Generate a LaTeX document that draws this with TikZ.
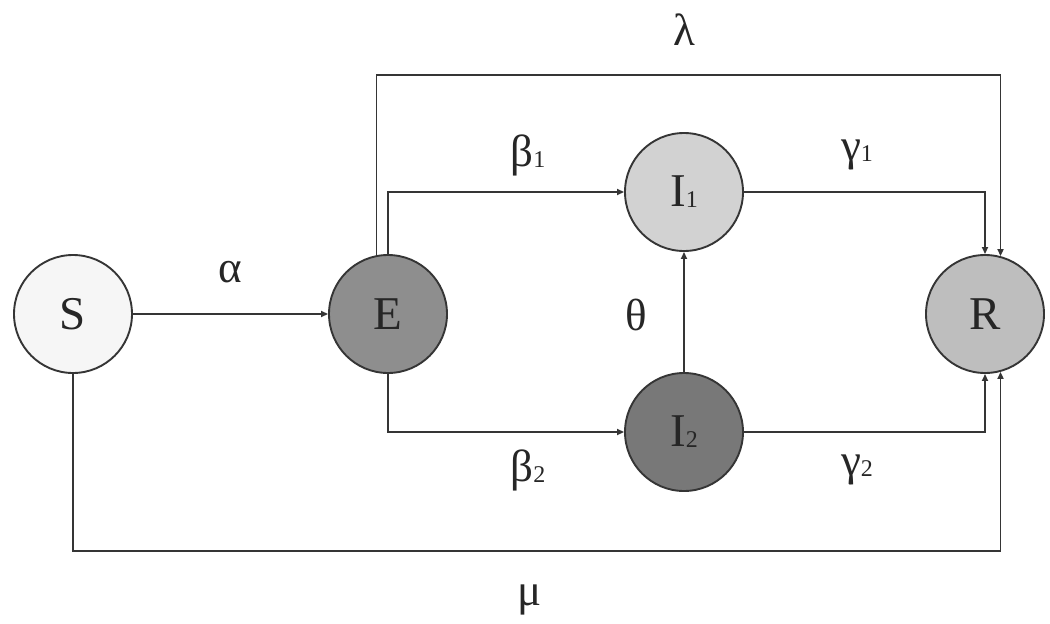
\documentclass[tikz,border=0pt]{standalone}
\usepackage{fontspec}
\setmainfont{Liberation Serif}
\usetikzlibrary{arrows.meta}
\definecolor{cS}{HTML}{F6F6F6}
\definecolor{cE}{HTML}{8E8E8E}
\definecolor{cIa}{HTML}{D2D2D2}
\definecolor{cIb}{HTML}{787878}
\definecolor{cR}{HTML}{BEBEBE}
\definecolor{ln}{HTML}{353535}
\newcommand{\sbs}[1]{\raisebox{-1pt}{\fontsize{24}{24}\selectfont #1}}
\tikzset{
  comp/.style={circle, draw=ln, line width=1.9pt, minimum size=118pt, inner sep=0pt,
    font=\fontsize{47}{47}\selectfont, text=black!85},
  flow/.style={draw=ln, line width=1.7pt, -{Triangle[length=7pt,width=6pt]}},
  lab/.style={font=\fontsize{45}{45}\selectfont, text=black!85, inner sep=0pt}
}
\begin{document}
\begin{tikzpicture}[x=1pt,y=-1pt]
\useasboundingbox (0,0) rectangle (1050,624);
\node[comp, fill=cS] (S) at (73,314) {S};
\node[comp, fill=cE] (E) at (388,314) {E};
\node[comp, fill=cIa] (I1) at (684,192) {I\sbs{1}};
\node[comp, fill=cIb] (I2) at (684,432) {I\sbs{2}};
\node[comp, fill=cR] (R) at (985,314) {R};
\coordinate (top) at (0,75);
\coordinate (bot) at (0,551);
% connectors
\draw[flow] (S) -- (E);
\draw[flow] (E.north) |- (I1.west);
\draw[flow] (E.south) |- (I2.west);
\draw[flow] (I2) -- (I1);
\draw[flow] (I1.east) -| (R.north);
\draw[flow] (I2.east) -| (R.south);
\draw[flow] (E.101.5) -- (E.101.5 |- top) -- (R.75.5 |- top) -- (R.75.5);
\draw[flow] (S.south) -- (S.south |- bot) -- (R.-75.5 |- bot) -- (R.-75.5);
% labels
\node[lab] (lalpha) at (230,272) {α};
\node[lab] (llambda) at (684,30) {λ};
\node[lab] (lbeta1) at (528,155) {β\sbs{1}};
\node[lab] (lgamma1) at (857,155) {γ\sbs{1}};
\node[lab] (ltheta) at (636,315) {θ};
\node[lab] (lbeta2) at (528,470) {β\sbs{2}};
\node[lab] (lgamma2) at (857,470) {γ\sbs{2}};
\node[lab] (lmu) at (530,600) {μ};
\end{tikzpicture}
\end{document}
